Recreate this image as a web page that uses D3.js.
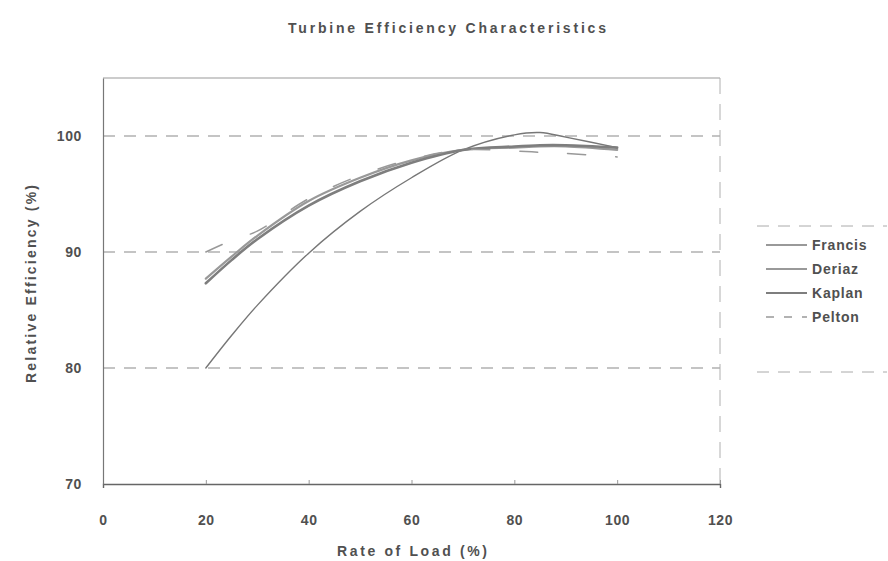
<!DOCTYPE html>
<html lang="en">
<head>
  <meta charset="UTF-8" />
  <title>Turbine Efficiency Characteristics</title>
  <script src="https://d3js.org/d3.v7.min.js"></script>
  <style>
    body {margin: 0; background: #fff;}
    svg text {font-family: "Liberation Sans", Arial, sans-serif; fill: #505050; font-weight: bold;}
  </style>
</head>
<body>
<script>
  // ****DATA****
  const loads   = [20, 25, 30, 40, 50, 60, 70, 80, 85, 90, 100];
  const francis = [80.0, 82.8, 85.4, 89.9, 93.5, 96.4, 98.8, 100.1, 100.3, 99.9, 99.0];
  const deriaz  = [87.7, 89.6, 91.4, 94.4, 96.4, 97.9, 98.8, 99.0, 99.1, 99.1, 98.8];
  const kaplan  = [87.3, 89.3, 91.1, 94.0, 96.1, 97.7, 98.8, 99.1, 99.2, 99.2, 99.0];
  const pelton  = [90.0, 91.0, 91.8, 94.6, 96.6, 98.0, 98.8, 98.7, 98.6, 98.5, 98.2];
  const seriesNames = ["Francis", "Deriaz", "Kaplan", "Pelton"];
  const xTicks = [0, 20, 40, 60, 80, 100, 120];
  const yTicks = [70, 80, 90, 100];

  const series = [francis, deriaz, kaplan, pelton].map((vals, i) => ({
    name: seriesNames[i],
    points: loads.map((x, j) => ({x: x, y: vals[j]}))
  }));

  const styles = {
    Francis: {stroke: "#777", width: 1.4, dash: null},
    Deriaz:  {stroke: "#999", width: 2.2, dash: null},
    Kaplan:  {stroke: "#7e7e7e", width: 2.6, dash: null},
    Pelton:  {stroke: "#999", width: 1.5, dash: "18,30"}
  };

  // ****SVG****
  const width = 888, height = 561;
  const plotLeft = 103, plotRight = 720, plotTop = 78, plotBottom = 484;

  const svg = d3.select("body").append("svg")
                .attr("width", width)
                .attr("height", height);

  // ****SCALES****
  const xScale = d3.scaleLinear().domain([0, 120]).range([plotLeft, plotRight]);
  const yScale = d3.scaleLinear().domain([70, 105]).range([plotBottom, plotTop]);

  // ****GRID + FRAME****
  svg.append("g").selectAll("line")
     .data(yTicks.filter(d => d > 70))
     .join("line")
     .attr("x1", plotLeft).attr("x2", plotRight)
     .attr("y1", d => yScale(d)).attr("y2", d => yScale(d))
     .attr("stroke", "#8a8a8a")
     .attr("stroke-width", 1.2)
     .attr("stroke-dasharray", "12,9");

  svg.append("line").attr("x1", plotLeft).attr("x2", plotRight).attr("y1", plotTop).attr("y2", plotTop)
     .attr("stroke", "#9a9a9a").attr("stroke-width", 1.2);
  svg.append("line").attr("x1", plotRight).attr("x2", plotRight).attr("y1", plotTop).attr("y2", plotBottom)
     .attr("stroke", "#b0b0b0").attr("stroke-width", 1).attr("stroke-dasharray", "16,10");

  // ****AXES****
  const xAxis = d3.axisBottom(xScale).tickValues(xTicks).tickSize(4).tickPadding(27);
  const yAxis = d3.axisLeft(yScale).tickValues(yTicks).tickSize(0).tickPadding(21);

  const gx = svg.append("g")
     .attr("transform", `translate(0, ${plotBottom})`)
     .call(xAxis);
  const gy = svg.append("g")
     .attr("transform", `translate(${plotLeft}, 0)`)
     .call(yAxis);

  gx.select(".domain").attr("stroke", "#666").attr("stroke-width", 1.4);
  gy.select(".domain").attr("stroke", "#777").attr("stroke-width", 1.2);
  gx.selectAll(".tick line").attr("stroke", "#999").attr("transform", "translate(0,-4)");
  gx.selectAll("text").attr("font-size", 14).attr("letter-spacing", "0.6px").attr("fill", "#505050");
  gy.selectAll("text").attr("font-size", 14).attr("letter-spacing", "0.6px").attr("fill", "#505050")
    .attr("dy", "0.32em");

  // ****LINES****
  const lineGenerator = d3.line()
                          .x(d => xScale(d.x))
                          .y(d => yScale(d.y))
                          .curve(d3.curveCatmullRom.alpha(0.5));

  svg.selectAll(".line")
     .data(series)
     .join("path")
     .attr("class", "line")
     .attr("d", d => lineGenerator(d.points))
     .attr("fill", "none")
     .attr("stroke", d => styles[d.name].stroke)
     .attr("stroke-width", d => styles[d.name].width)
     .attr("stroke-dasharray", d => styles[d.name].dash)
     .attr("stroke-linecap", "round");

  // ****TITLES****
  svg.append("text")
     .attr("x", 447).attr("y", 33)
     .attr("text-anchor", "middle")
     .attr("font-size", 14)
     .attr("textLength", 318).attr("lengthAdjust", "spacing")
     .text("Turbine Efficiency Characteristics");

  svg.append("text")
     .attr("x", 412).attr("y", 556)
     .attr("text-anchor", "middle")
     .attr("font-size", 14)
     .attr("textLength", 150).attr("lengthAdjust", "spacing")
     .text("Rate of Load (%)");

  svg.append("text")
     .attr("transform", "translate(36, 284) rotate(-90)")
     .attr("text-anchor", "middle")
     .attr("font-size", 14)
     .attr("textLength", 198).attr("lengthAdjust", "spacing")
     .text("Relative Efficiency (%)");

  // ****LEGEND****
  const legend = svg.append("g").attr("transform", "translate(757, 226)");
  legend.append("line").attr("x1", 0).attr("x2", 130).attr("y1", 0).attr("y2", 0)
        .attr("stroke", "#aaa").attr("stroke-dasharray", "12,9");
  legend.append("line").attr("x1", 0).attr("x2", 130).attr("y1", 146).attr("y2", 146)
        .attr("stroke", "#aaa").attr("stroke-dasharray", "12,9");

  const legendItems = legend.selectAll(".legend-item")
                            .data(series)
                            .join("g")
                            .attr("class", "legend-item")
                            .attr("transform", (d, i) => `translate(0, ${19 + i * 24})`);

  legendItems.append("line")
             .attr("x1", 9).attr("x2", 50)
             .attr("stroke", d => styles[d.name].stroke)
             .attr("stroke-width", d => Math.min(styles[d.name].width, 2))
             .attr("stroke-dasharray", d => d.name === "Pelton" ? "8,10" : null);

  legendItems.append("text")
             .attr("x", 55).attr("dy", "0.35em")
             .attr("font-size", 14)
             .attr("letter-spacing", "0.8px")
             .text(d => d.name);
</script>
</body>
</html>
